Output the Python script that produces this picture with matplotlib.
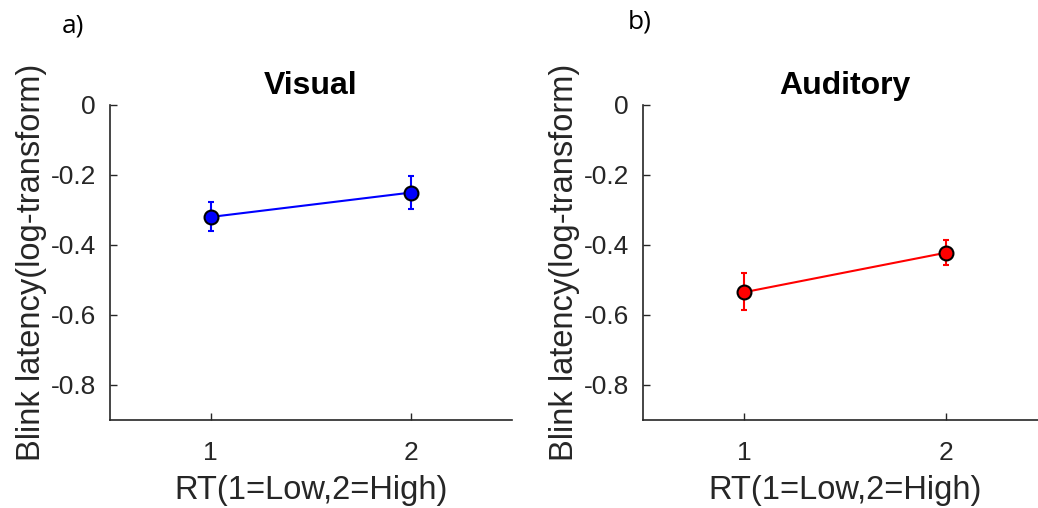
import matplotlib
matplotlib.use("Agg")
import matplotlib.pyplot as plt

plt.rcParams['font.family'] = ['Liberation Sans', 'DejaVu Sans']

x = [1, 2]
visual_mean = [-0.320, -0.250]
visual_err_low = [0.041, 0.047]
visual_err_high = [0.043, 0.047]
auditory_mean = [-0.535, -0.422]
auditory_err_low = [0.052, 0.034]
auditory_err_high = [0.055, 0.035]
yticks = [0, -0.2, -0.4, -0.6, -0.8]
ytick_labels = ['0', '-0.2', '-0.4', '-0.6', '-0.8']
titles = ['Visual', 'Auditory']
panel_labels = ['a)', 'b)']
xlabel = 'RT(1=Low,2=High)'
ylabel = 'Blink latency(log-transform)'

W, H = 1038, 508
fig = plt.figure(figsize=(W / 100, H / 100), dpi=100)

axes_px = [(110, 105, 402, 315), (643, 105, 404, 315)]
series = [
    (visual_mean, visual_err_low, visual_err_high, 'blue'),
    (auditory_mean, auditory_err_low, auditory_err_high, 'red'),
]
grey = '#262626'
for i, ((l, t, w, h), (m, el, eh, c)) in enumerate(zip(axes_px, series)):
    ax = fig.add_axes([l / W, 1 - (t + h) / H, w / W, h / H])
    ax.errorbar(x, m, yerr=[el, eh], color=c, lw=1.5, capsize=2.5,
                elinewidth=1.5, capthick=1.5, marker='o', ms=10,
                mfc=c, mec='black', mew=1.5, zorder=3)
    ax.set_xlim(0.5, 2.5)
    ax.set_ylim(-0.9, 0)
    ax.set_xticks(x)
    ax.set_yticks(yticks)
    ax.set_yticklabels(ytick_labels)
    ax.spines['top'].set_visible(False)
    ax.spines['right'].set_visible(False)
    for s in ['left', 'bottom']:
        ax.spines[s].set_color(grey)
        ax.spines[s].set_linewidth(1.2)
    ax.tick_params(direction='in', length=5, width=1, colors=grey,
                   labelsize=19)
    ax.tick_params(axis='x', pad=15)
    ax.tick_params(axis='y', pad=10)
    ax.set_title(titles[i], fontsize=23, fontweight='bold', pad=8)
    ax.set_xlabel(xlabel, fontsize=23.5, color=grey, labelpad=7)
    ax.set_ylabel(ylabel, fontsize=23.5, color=grey, labelpad=2.5)

fig.text(62 / W, 1 - 26 / H, panel_labels[0], fontsize=19,
         family=['Open Sans', 'DejaVu Sans'], va='center')
fig.text(628 / W, 1 - 22 / H, panel_labels[1], fontsize=19,
         family=['Open Sans', 'DejaVu Sans'], va='center')

fig.savefig('out.png', dpi=100, facecolor='white')
